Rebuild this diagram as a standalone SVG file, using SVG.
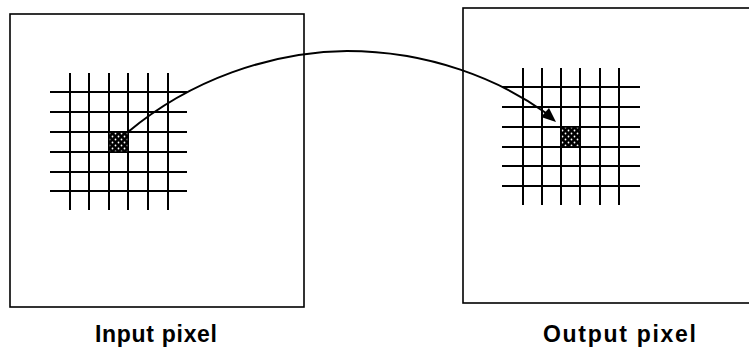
<svg xmlns="http://www.w3.org/2000/svg" width="749" height="351" viewBox="0 0 749 351">
<defs>
<style>
.frame{fill:none;stroke:#000;stroke-width:1.6}
.grid line{stroke:#000;stroke-width:2}
.lbl{font-family:"Liberation Sans",Arial,sans-serif;font-weight:bold;font-size:23px;fill:#000}
.conn{fill:none;stroke:#000;stroke-width:2}
</style>
<pattern id="dots" x="0" y="0" width="6" height="6" patternUnits="userSpaceOnUse">
<rect width="6" height="6" fill="#000"/>
<circle cx="1.5" cy="1.5" r="0.9" fill="#fff"/>
<circle cx="4.5" cy="4.5" r="0.9" fill="#fff"/>
</pattern>
</defs>
<rect width="749" height="351" fill="#fff"/>
<g id="input">
<rect class="frame" x="10" y="14" width="294" height="293"/>
<g class="grid">
<line x1="70" y1="73" x2="70" y2="210"/>
<line x1="89" y1="73" x2="89" y2="210"/>
<line x1="109" y1="73" x2="109" y2="210"/>
<line x1="128" y1="73" x2="128" y2="210"/>
<line x1="148" y1="73" x2="148" y2="210"/>
<line x1="168" y1="73" x2="168" y2="210"/>
<line x1="50" y1="92" x2="187" y2="92"/>
<line x1="50" y1="112" x2="187" y2="112"/>
<line x1="50" y1="132" x2="187" y2="132"/>
<line x1="50" y1="152" x2="187" y2="152"/>
<line x1="50" y1="172" x2="187" y2="172"/>
<line x1="50" y1="191" x2="187" y2="191"/>
</g>
<rect x="109" y="132" width="19" height="20" fill="url(#dots)" stroke="#000" stroke-width="1.5"/>
<text class="lbl" x="95" y="342" textLength="122" lengthAdjust="spacing">Input pixel</text>
</g>
<g id="output">
<rect class="frame" x="463" y="8" width="320" height="295"/>
<g class="grid">
<line x1="523" y1="68" x2="523" y2="205"/>
<line x1="542" y1="68" x2="542" y2="205"/>
<line x1="561" y1="68" x2="561" y2="205"/>
<line x1="580" y1="68" x2="580" y2="205"/>
<line x1="600" y1="68" x2="600" y2="205"/>
<line x1="619" y1="68" x2="619" y2="205"/>
<line x1="502" y1="87" x2="640" y2="87"/>
<line x1="502" y1="107" x2="640" y2="107"/>
<line x1="502" y1="127" x2="640" y2="127"/>
<line x1="502" y1="147" x2="640" y2="147"/>
<line x1="502" y1="166" x2="640" y2="166"/>
<line x1="502" y1="186" x2="640" y2="186"/>
</g>
<rect x="561" y="127" width="19" height="20" fill="url(#dots)" stroke="#000" stroke-width="1.5"/>
<text class="lbl" x="543" y="342" textLength="153" lengthAdjust="spacing">Output pixel</text>
</g>
<g id="connectors">
<path class="conn" d="M128,132 C190,80 270,52 347,51 C430,51 500,80 546,113"/>
<polygon points="556,122 541,117 549,108" fill="#000"/>
</g>
</svg>
